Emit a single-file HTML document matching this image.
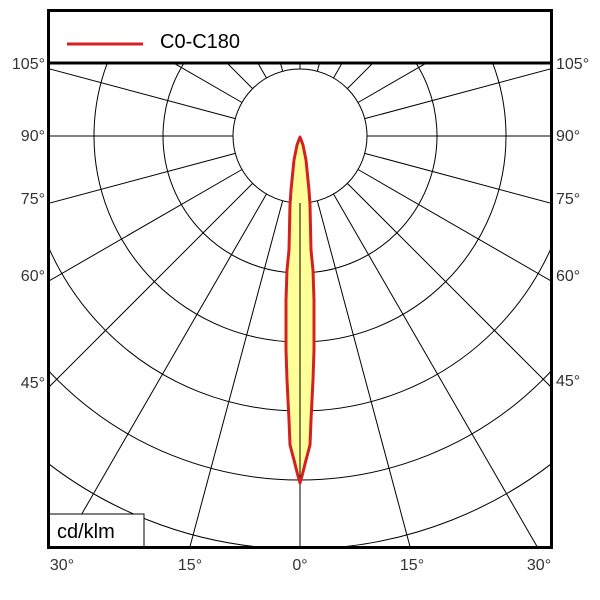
<!DOCTYPE html>
<html><head><style>
html,body{margin:0;padding:0;background:#fff;overflow:hidden;width:600px;height:600px;}
svg{display:block;}
</style></head><body>
<svg width="600" height="600" viewBox="0 0 600 600" xmlns="http://www.w3.org/2000/svg" font-family="Liberation Sans, sans-serif">
<defs><clipPath id="c"><rect x="49" y="64" width="502" height="483"/></clipPath></defs>
<rect width="600" height="600" fill="#fff"/>
<g clip-path="url(#c)" stroke="#000" stroke-width="1" fill="none">
<circle cx="300" cy="136" r="67"/>
<circle cx="300" cy="136" r="137"/>
<circle cx="300" cy="136" r="206"/>
<circle cx="300" cy="136" r="275"/>
<circle cx="300" cy="136" r="344"/>
<circle cx="300" cy="136" r="413"/>
<circle cx="300" cy="136" r="482"/>
<g id="rays">
<line x1="300" y1="203" x2="300" y2="700"/>
</g>
<use href="#rays" transform="rotate(15 300 136)"/>
<use href="#rays" transform="rotate(30 300 136)"/>
<use href="#rays" transform="rotate(45 300 136)"/>
<use href="#rays" transform="rotate(60 300 136)"/>
<use href="#rays" transform="rotate(75 300 136)"/>
<use href="#rays" transform="rotate(90 300 136)"/>
<use href="#rays" transform="rotate(105 300 136)"/>
<use href="#rays" transform="rotate(120 300 136)"/>
<use href="#rays" transform="rotate(135 300 136)"/>
<use href="#rays" transform="rotate(150 300 136)"/>
<use href="#rays" transform="rotate(165 300 136)"/>
<use href="#rays" transform="rotate(180 300 136)"/>
<use href="#rays" transform="rotate(-15 300 136)"/>
<use href="#rays" transform="rotate(-30 300 136)"/>
<use href="#rays" transform="rotate(-45 300 136)"/>
<use href="#rays" transform="rotate(-60 300 136)"/>
<use href="#rays" transform="rotate(-75 300 136)"/>
<use href="#rays" transform="rotate(-90 300 136)"/>
<use href="#rays" transform="rotate(-105 300 136)"/>
<use href="#rays" transform="rotate(-120 300 136)"/>
<use href="#rays" transform="rotate(-135 300 136)"/>
<use href="#rays" transform="rotate(-150 300 136)"/>
<use href="#rays" transform="rotate(-165 300 136)"/>
</g>
<path d="M300,137 L303,145 L306,160 L309,190 L310,205 L311,250 L313,270 L314,300 L314,350 L313,380 L311,420 L310,445 L306,460 L302,476 L300,483 L298,476 L294,460 L290,445 L289,420 L287,380 L286,350 L286,300 L287,270 L289,250 L290,205 L291,190 L294,160 L297,145 Z" fill="#ffff99" stroke="none"/>
<line x1="300" y1="203" x2="300" y2="483" stroke="#000" stroke-width="1"/>
<path d="M300,137 L303,145 L306,160 L309,190 L310,205 L311,250 L313,270 L314,300 L314,350 L313,380 L311,420 L310,445 L306,460 L302,476 L300,483 L298,476 L294,460 L290,445 L289,420 L287,380 L286,350 L286,300 L287,270 L289,250 L290,205 L291,190 L294,160 L297,145 Z" fill="none" stroke="#d42020" stroke-width="3" stroke-linejoin="round"/>
<rect x="49" y="514" width="95" height="34" fill="#fff" stroke="#000" stroke-width="1"/>
<text x="57" y="538" font-size="20" fill="#000">cd/klm</text>
<rect x="49" y="10" width="502" height="53" fill="#fff"/>
<line x1="67" y1="44" x2="143" y2="44" stroke="#d42020" stroke-width="3"/>
<text x="160" y="48" font-size="20" fill="#000">C0-C180</text>
<rect x="48.5" y="10.5" width="503" height="537" fill="none" stroke="#000" stroke-width="3"/>
<line x1="48" y1="63" x2="552" y2="63" stroke="#000" stroke-width="3"/>
<g font-size="16" fill="#333">
<text x="45" y="69" text-anchor="end">105°</text>
<text x="45" y="141" text-anchor="end">90°</text>
<text x="45" y="204" text-anchor="end">75°</text>
<text x="45" y="281" text-anchor="end">60°</text>
<text x="45" y="388" text-anchor="end">45°</text>
<text x="556" y="69">105°</text>
<text x="556" y="141">90°</text>
<text x="556" y="204">75°</text>
<text x="556" y="281">60°</text>
<text x="556" y="386">45°</text>
<text x="62" y="570" text-anchor="middle">30°</text>
<text x="190" y="570" text-anchor="middle">15°</text>
<text x="300" y="570" text-anchor="middle">0°</text>
<text x="412" y="570" text-anchor="middle">15°</text>
<text x="539" y="570" text-anchor="middle">30°</text>
</g>
</svg>
</body></html>
